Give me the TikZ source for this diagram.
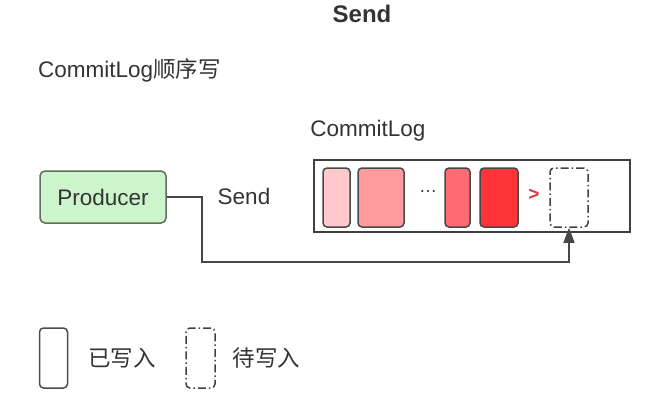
\documentclass[tikz,border=0pt]{standalone}
\usepackage{fontspec}
\setmainfont{Liberation Sans}
\newfontfamily\cjk{Noto Sans CJK SC}
\usetikzlibrary{positioning,arrows.meta}
\definecolor{prodfill}{HTML}{CCF5CC}
\definecolor{prodline}{HTML}{5E6E5E}
\definecolor{textgray}{HTML}{333333}
\definecolor{segA}{HTML}{FFC9CD}
\definecolor{segB}{HTML}{FF9A9E}
\definecolor{segC}{HTML}{FF6B72}
\definecolor{segD}{HTML}{FF3338}
\definecolor{markred}{HTML}{E0363B}
\tikzset{
  txt/.style={inner sep=0pt, text=textgray, font=\fontsize{22.5}{26}\selectfont},
  segment/.style={draw=black!72, line width=1.5pt, rounded corners=4pt,
    minimum height=59pt, inner sep=0pt},
  pendingseg/.style={segment, draw=black!75,
    dash pattern=on 8pt off 3pt on 1.5pt off 3pt},
  flow/.style={draw=black!72, line width=1.5pt,
    -{Triangle[length=15pt,width=11pt]}}
}
\begin{document}
\begin{tikzpicture}[x=1pt,y=-1pt]
\useasboundingbox (0,0) rectangle (669,409);
% titles
\node[txt, font=\fontsize{24}{28}\selectfont\bfseries] (title) at (362,14) {Send};
\node[txt, anchor=west] (subtitle) at (38,70) {CommitLog{\cjk 顺序写}};
% producer
\node[draw=prodline, fill=prodfill, line width=1.5pt, rounded corners=5pt,
  minimum width=126pt, minimum height=52pt, txt, inner sep=0pt] (producer) at (103,197) {Producer};
\node[txt] (sendlbl) at (244,196) {Send};
% commit log
\node[draw=black!75, line width=1.5pt, minimum width=316pt, minimum height=72pt,
  inner sep=0pt] (commitlog) at (472,196) {};
\node[txt] (loglbl) at (368,131) {CommitLog};
\node[segment, fill=segA, minimum width=27pt] (seg1) at (336.5,197.5) {};
\node[segment, fill=segB, minimum width=46pt] (seg2) at (381,197.5) {};
\node[txt, font=\fontsize{18}{20}\selectfont] (dots) at (428,192) {\ldots};
\node[segment, fill=segC, minimum width=25pt] (seg3) at (457.5,197.5) {};
\node[segment, fill=segD, minimum width=38pt] (seg4) at (499,197.5) {};
\node[txt, text=markred, font=\fontsize{19}{22}\selectfont\bfseries] (next) at (534,195) {>};
\node[pendingseg, minimum width=38pt] (pending) at (569,197.5) {};
% send path
\coordinate (bend) at (202,262);
\draw[flow] (producer.east) -| (bend) -| (pending.south);
% legend
\node[segment, draw=black!70, minimum width=28pt, minimum height=60pt] (donekey) at (53.5,358) {};
\node[txt, right=20pt of donekey] (donelbl) {\cjk 已写入};
\node[pendingseg, minimum width=29pt, minimum height=60pt] (pendkey) at (200.5,358) {};
\node[txt, right=17pt of pendkey] (pendlbl) {\cjk 待写入};
\end{tikzpicture}
\end{document}
